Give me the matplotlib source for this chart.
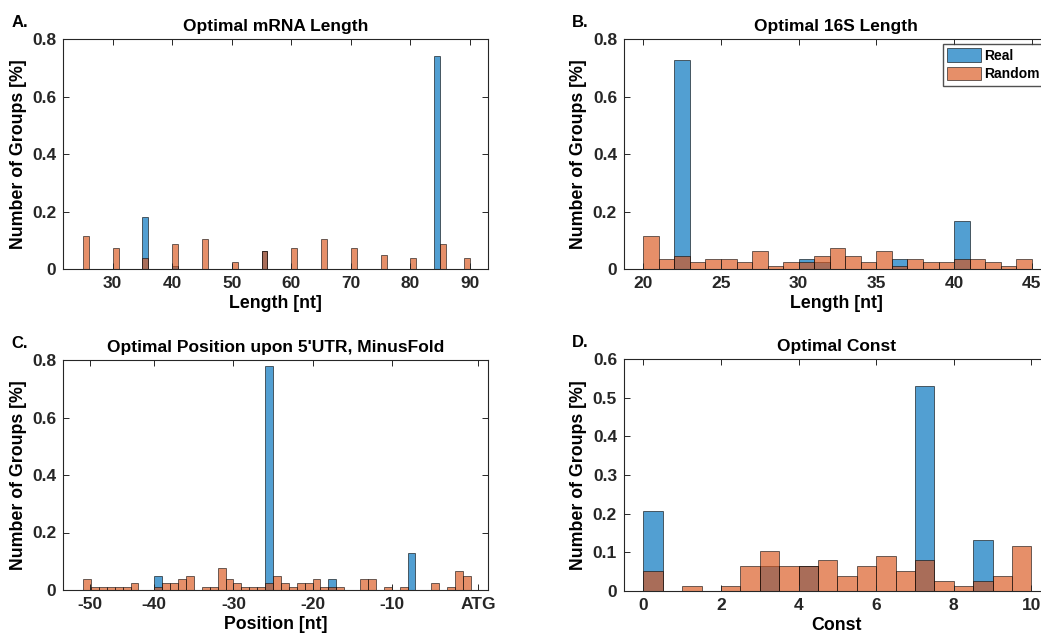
import matplotlib
matplotlib.use("Agg")
import matplotlib.pyplot as plt
from matplotlib.ticker import FuncFormatter

# A. optimal mRNA length (bin left edges, bin width 1)
mrna_real_x = [35, 40, 55, 84]
mrna_real_y = [0.182, 0.013, 0.065, 0.741]
mrna_rand_x = [25, 30, 35, 40, 45, 50, 55, 60, 65, 70, 75, 80, 85, 89]
mrna_rand_y = [0.115, 0.075, 0.039, 0.088, 0.104, 0.024, 0.065, 0.075, 0.104,
               0.075, 0.049, 0.039, 0.088, 0.039]

# B. optimal 16S length
s16_real_x = [22, 30, 31, 36, 40]
s16_real_y = [0.729, 0.037, 0.024, 0.037, 0.167]
s16_rand_x = list(range(20, 45))
s16_rand_y = [0.115, 0.037, 0.046, 0.024, 0.037, 0.037, 0.024, 0.064, 0.010,
              0.024, 0.024, 0.046, 0.075, 0.046, 0.024, 0.064, 0.010, 0.037,
              0.024, 0.024, 0.037, 0.037, 0.024, 0.010, 0.037]

# C. optimal position upon 5'UTR
pos_real_x = [-40, -26, -18, -8]
pos_real_y = [0.049, 0.780, 0.037, 0.127]
pos_rand_x = [-49, -48, -47, -46, -45, -44, -43, -40, -39, -38, -37, -36,
              -34, -33, -32, -31, -30, -29, -28, -27, -26, -25, -24, -23,
              -22, -21, -20, -19, -18, -17, -14, -13, -11, -9, -5, -3, -2, -1]
pos_rand_y = [0.037, 0.012, 0.012, 0.012, 0.012, 0.012, 0.025, 0.012, 0.025,
              0.025, 0.037, 0.049, 0.012, 0.012, 0.075, 0.037, 0.025, 0.012,
              0.012, 0.012, 0.025, 0.049, 0.025, 0.012, 0.025, 0.025, 0.037,
              0.012, 0.012, 0.012, 0.037, 0.037, 0.012, 0.012, 0.025, 0.012,
              0.066, 0.049]
pos_ticks = [-48.1, -40, -30, -20, -10, 0.94]
pos_labels = ["-50", "-40", "-30", "-20", "-10", "ATG"]

# D. optimal const (bin width 0.5)
const_real_x = [0, 3, 4, 7, 8.5]
const_real_y = [0.207, 0.065, 0.065, 0.532, 0.131]
const_rand_x = [0, 0.5, 1, 1.5, 2, 2.5, 3, 3.5, 4, 4.5, 5, 5.5, 6, 6.5, 7,
                7.5, 8, 8.5, 9, 9.5]
const_rand_y = [0.052, 0, 0.013, 0, 0.013, 0.065, 0.104, 0.065, 0.065, 0.080,
                0.038, 0.065, 0.090, 0.052, 0.080, 0.025, 0.013, 0.025, 0.038,
                0.117]

REAL = (0 / 255, 114 / 255, 189 / 255)
RAND = (217 / 255, 83 / 255, 25 / 255)
AXC = (0.15, 0.15, 0.15)

plt.rcParams["font.family"] = ["Liberation Sans", "DejaVu Sans"]
plt.rcParams["font.weight"] = "bold"

W, H = 1041, 638


def panel(ax, rx, ry, nx, ny, width, title, xlabel, letter):
    ax.bar(rx, ry, width=width, align="edge", color=REAL, alpha=0.68,
           edgecolor="black", linewidth=0.6, label="Real")
    ax.bar(nx, ny, width=width, align="edge", color=RAND, alpha=0.65,
           edgecolor="black", linewidth=0.6, label="Random")
    ax.set_title(title, fontsize=12.5, fontweight="bold", pad=6)
    ax.set_xlabel(xlabel, fontsize=12.8, fontweight="bold", labelpad=3)
    ax.set_ylabel("Number of Groups [%]", fontsize=12.8, fontweight="bold",
                  labelpad=4)
    ax.tick_params(direction="in", top=True, right=True, length=4, width=0.7,
                   labelsize=12.5, colors=AXC, labelcolor=AXC, pad=5)
    for lbl in ax.get_xticklabels() + ax.get_yticklabels():
        lbl.set_fontweight("bold")
    for sp in ax.spines.values():
        sp.set_color(AXC)
        sp.set_linewidth(0.8)
    ax.yaxis.set_major_formatter(FuncFormatter(lambda v, p: f"{v:g}"))
    bb = ax.get_position()
    ax.figure.text(bb.x0 - 52 / W, bb.y1 + 12 / H, letter, fontsize=12,
                   fontweight="bold", ha="left", va="baseline")


fig = plt.figure(figsize=(10.41, 6.38), dpi=100)
aw = 424.4 / W

axA = fig.add_axes([63.3 / W, (H - 269.3) / H, aw, 230 / H])
axB = fig.add_axes([624 / W, (H - 269.3) / H, aw, 230 / H])
axC = fig.add_axes([63.3 / W, (H - 590) / H, aw, 230 / H])
axD = fig.add_axes([624 / W, (H - 590.7) / H, aw, 231.4 / H])

panel(axA, mrna_real_x, mrna_real_y, mrna_rand_x, mrna_rand_y, 1,
      "Optimal mRNA Length", "Length [nt]", "A.")
axA.set_xlim(21.7, 93.0)
axA.set_ylim(0, 0.8)
axA.set_xticks(range(30, 91, 10))
axA.set_yticks([0, 0.2, 0.4, 0.6, 0.8])

panel(axB, s16_real_x, s16_real_y, s16_rand_x, s16_rand_y, 1,
      "Optimal 16S Length", "Length [nt]", "B.")
axB.set_xlim(18.76, 46.07)
axB.set_ylim(0, 0.8)
axB.set_xticks(range(20, 46, 5))
axB.set_yticks([0, 0.2, 0.4, 0.6, 0.8])
axB.legend(loc="upper left", bbox_to_anchor=(942.7 / W, 1 - 44.3 / H),
           bbox_transform=fig.transFigure, frameon=True, fancybox=False,
           edgecolor=AXC, handlelength=2.45, handleheight=1.1,
           handletextpad=0.25, borderpad=0.3, labelspacing=0.3,
           borderaxespad=0, prop={"weight": "bold", "size": 10})

panel(axC, pos_real_x, pos_real_y, pos_rand_x, pos_rand_y, 1,
      "Optimal Position upon 5'UTR, MinusFold", "Position [nt]", "C.")
axC.set_xlim(-51.5, 2.13)
axC.set_ylim(0, 0.8)
axC.set_xticks(pos_ticks)
axC.set_xticklabels(pos_labels, fontweight="bold")
axC.set_yticks([0, 0.2, 0.4, 0.6, 0.8])

panel(axD, const_real_x, const_real_y, const_rand_x, const_rand_y, 0.5,
      "Optimal Const", "Const", "D.")
axD.set_xlim(-0.5, 10.44)
axD.set_ylim(0, 0.6)
axD.set_xticks(range(0, 11, 2))
axD.set_yticks([0, 0.1, 0.2, 0.3, 0.4, 0.5, 0.6])

fig.savefig("out.png", dpi=100)
